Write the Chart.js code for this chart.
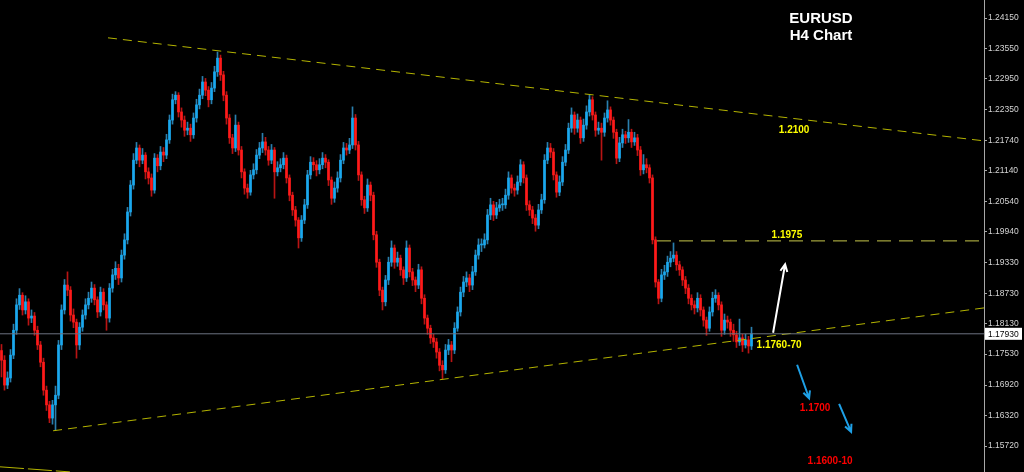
<!DOCTYPE html>
<html>
<head>
<meta charset="utf-8">
<title>EURUSD H4 Chart</title>
<script src="https://cdn.jsdelivr.net/npm/chart.js@4.4.0/dist/chart.umd.min.js"></script>
<style>
   body { margin: 0; background: #000; }
   .chart-box { width: 1024px; height: 472px; }
</style>
</head>
<body>
<div class="chart-box"><canvas id="eurusd-chart"></canvas></div>
<script>
// price data (H4 candles, open = previous close)
const firstOpen = 1.1760;
const closes = [
   1.1741, 1.1692, 1.1706, 1.1751, 1.1800, 1.1850, 1.1869, 1.1840, 1.1856, 1.1824,
   1.1828, 1.1800, 1.1771, 1.1737, 1.1682, 1.1653, 1.1627, 1.1653, 1.1672, 1.1771,
   1.1840, 1.1889, 1.1879, 1.1830, 1.1816, 1.1771, 1.1806, 1.1830, 1.1850, 1.1863,
   1.1883, 1.1860, 1.1836, 1.1875, 1.1850, 1.1824, 1.1883, 1.1909, 1.1922, 1.1903,
   1.1948, 1.1978, 1.2033, 1.2086, 1.2135, 1.2159, 1.2135, 1.2145, 1.2112, 1.2100,
   1.2076, 1.2139, 1.2124, 1.2151, 1.2145, 1.2175, 1.2214, 1.2254, 1.2263, 1.2230,
   1.2214, 1.2194, 1.2198, 1.2185, 1.2218, 1.2244, 1.2263, 1.2289, 1.2273, 1.2254,
   1.2277, 1.2309, 1.2336, 1.2303, 1.2263, 1.2218, 1.2179, 1.2159, 1.2204, 1.2155,
   1.2112, 1.2080, 1.2072, 1.2106, 1.2116, 1.2145, 1.2159, 1.2171, 1.2155, 1.2135,
   1.2155, 1.2112, 1.2120, 1.2126, 1.2139, 1.2100, 1.2066, 1.2037, 1.2017, 1.1982,
   1.2017, 1.2047, 1.2106, 1.2131, 1.2126, 1.2116, 1.2126, 1.2139, 1.2131, 1.2096,
   1.2060, 1.2080, 1.2100, 1.2135, 1.2159, 1.2155, 1.2165, 1.2218, 1.2165, 1.2106,
   1.2057, 1.2041, 1.2086, 1.2066, 1.1988, 1.1934, 1.1879, 1.1856, 1.1899, 1.1934,
   1.1962, 1.1934, 1.1942, 1.1919, 1.1903, 1.1962, 1.1915, 1.1899, 1.1889, 1.1919,
   1.1863, 1.1824, 1.1804, 1.1785, 1.1777, 1.1757, 1.1731, 1.1722, 1.1761, 1.1771,
   1.1761, 1.1804, 1.1836, 1.1875, 1.1895, 1.1903, 1.1889, 1.1915, 1.1948, 1.1968,
   1.1968, 1.1978, 1.2027, 1.2047, 1.2027, 1.2041, 1.2047, 1.2047, 1.2066, 1.2100,
   1.2080, 1.2076, 1.2092, 1.2126, 1.2100, 1.2047, 1.2037, 1.2021, 1.2007, 1.2037,
   1.2057, 1.2135, 1.2159, 1.2151, 1.2106, 1.2072, 1.2092, 1.2131, 1.2155, 1.2198,
   1.2224, 1.2198, 1.2214, 1.2179, 1.2204, 1.2230, 1.2254, 1.2224, 1.2194, 1.2198,
   1.2190, 1.2218, 1.2234, 1.2214, 1.2190, 1.2139, 1.2169, 1.2185, 1.2179, 1.2190,
   1.2171, 1.2179, 1.2155, 1.2116, 1.2126, 1.2120, 1.2100, 1.1978, 1.1895, 1.1863,
   1.1909, 1.1915, 1.1934, 1.1942, 1.1948, 1.1929, 1.1919, 1.1899, 1.1883, 1.1863,
   1.1850, 1.1844, 1.1863, 1.1840, 1.1820, 1.1804, 1.1836, 1.1863, 1.1869, 1.1850,
   1.1800, 1.1820, 1.1816, 1.1800, 1.1791, 1.1777, 1.1785, 1.1771, 1.1781, 1.1769,
   1.1793
];
const highs = [
   1.1772, 1.1750, 1.1718, 1.1762, 1.1812, 1.1862, 1.1882, 1.1874, 1.1868, 1.1862,
   1.1840, 1.1835, 1.1808, 1.1778, 1.1745, 1.1690, 1.1660, 1.1662, 1.1690, 1.1780,
   1.1850, 1.1900, 1.1915, 1.1886, 1.1842, 1.1822, 1.1815, 1.1840, 1.1862, 1.1875,
   1.1895, 1.1890, 1.1866, 1.1885, 1.1882, 1.1856, 1.1892, 1.1920, 1.1935, 1.1930,
   1.1958, 1.1990, 1.2042, 1.2095, 1.2148, 1.2170, 1.2165, 1.2158, 1.2150, 1.2120,
   1.2108, 1.2148, 1.2146, 1.2162, 1.2160, 1.2186, 1.2224, 1.2265, 1.2270, 1.2268,
   1.2238, 1.2222, 1.2210, 1.2206, 1.2228, 1.2255, 1.2275, 1.2300, 1.2296, 1.2280,
   1.2288, 1.2320, 1.2348, 1.2342, 1.2310, 1.2270, 1.2225, 1.2186, 1.2224, 1.2210,
   1.2162, 1.2118, 1.2088, 1.2115, 1.2128, 1.2156, 1.2170, 1.2188, 1.2180, 1.2162,
   1.2166, 1.2160, 1.2132, 1.2138, 1.2150, 1.2145, 1.2106, 1.2072, 1.2044, 1.2022,
   1.2026, 1.2058, 1.2115, 1.2142, 1.2140, 1.2134, 1.2138, 1.2150, 1.2146, 1.2136,
   1.2102, 1.2092, 1.2112, 1.2146, 1.2170, 1.2168, 1.2178, 1.2240, 1.2225, 1.2172,
   1.2112, 1.2064, 1.2098, 1.2092, 1.2072, 1.1995, 1.1940, 1.1885, 1.1908, 1.1944,
   1.1976, 1.1968, 1.1954, 1.1948, 1.1925, 1.1976, 1.1968, 1.1922, 1.1905, 1.1930,
   1.1925, 1.1870, 1.1830, 1.1810, 1.1792, 1.1784, 1.1764, 1.1740, 1.1772, 1.1782,
   1.1778, 1.1815, 1.1846, 1.1885, 1.1906, 1.1915, 1.1910, 1.1926, 1.1958, 1.1980,
   1.1980, 1.1990, 1.2038, 1.2060, 1.2054, 1.2052, 1.2058, 1.2060, 1.2078, 1.2112,
   1.2106, 1.2088, 1.2104, 1.2136, 1.2132, 1.2106, 1.2055, 1.2044, 1.2028, 1.2048,
   1.2068, 1.2146, 1.2170, 1.2168, 1.2158, 1.2112, 1.2104, 1.2142, 1.2166, 1.2208,
   1.2238, 1.2230, 1.2226, 1.2220, 1.2216, 1.2242, 1.2263, 1.2260, 1.2230, 1.2210,
   1.2208, 1.2228, 1.2252, 1.2240, 1.2220, 1.2196, 1.2180, 1.2196, 1.2192, 1.2215,
   1.2196, 1.2190, 1.2186, 1.2162, 1.2146, 1.2138, 1.2126, 1.2106, 1.1984, 1.1900,
   1.1920, 1.1928, 1.1946, 1.1955, 1.1972, 1.1955, 1.1936, 1.1925, 1.1906, 1.1890,
   1.1870, 1.1858, 1.1874, 1.1870, 1.1846, 1.1826, 1.1846, 1.1875, 1.1880, 1.1874,
   1.1856, 1.1832, 1.1828, 1.1822, 1.1812, 1.1798, 1.1822, 1.1792, 1.1792, 1.1788,
   1.1806
];
const lows = [
   1.1708, 1.1682, 1.1685, 1.1698, 1.1744, 1.1792, 1.1841, 1.1830, 1.1832, 1.1810,
   1.1815, 1.1790, 1.1762, 1.1728, 1.1672, 1.1642, 1.1618, 1.1615, 1.1603, 1.1665,
   1.1762, 1.1832, 1.1868, 1.1818, 1.1805, 1.1745, 1.1762, 1.1798, 1.1822, 1.1842,
   1.1855, 1.1850, 1.1825, 1.1828, 1.1840, 1.1800, 1.1816, 1.1875, 1.1900, 1.1890,
   1.1895, 1.1940, 1.1970, 1.2025, 1.2078, 1.2128, 1.2122, 1.2128, 1.2098, 1.2088,
   1.2064, 1.2070, 1.2112, 1.2116, 1.2132, 1.2138, 1.2168, 1.2206, 1.2246, 1.2220,
   1.2200, 1.2182, 1.2185, 1.2172, 1.2178, 1.2210, 1.2236, 1.2256, 1.2262, 1.2240,
   1.2246, 1.2270, 1.2300, 1.2292, 1.2252, 1.2206, 1.2168, 1.2148, 1.2152, 1.2145,
   1.2100, 1.2068, 1.2060, 1.2066, 1.2098, 1.2108, 1.2138, 1.2150, 1.2145, 1.2125,
   1.2128, 1.2060, 1.2104, 1.2112, 1.2118, 1.2090, 1.2055, 1.2026, 1.2005, 1.1962,
   1.1975, 1.2010, 1.2040, 1.2098, 1.2114, 1.2104, 1.2108, 1.2118, 1.2120, 1.2085,
   1.2048, 1.2052, 1.2072, 1.2092, 1.2128, 1.2145, 1.2148, 1.2158, 1.2155, 1.2095,
   1.2046, 1.2030, 1.2034, 1.2055, 1.1978, 1.1924, 1.1868, 1.1840, 1.1848, 1.1890,
   1.1926, 1.1922, 1.1926, 1.1908, 1.1890, 1.1896, 1.1905, 1.1888, 1.1876, 1.1882,
   1.1852, 1.1812, 1.1792, 1.1774, 1.1766, 1.1745, 1.1720, 1.1704, 1.1715, 1.1752,
   1.1738, 1.1754, 1.1798, 1.1828, 1.1866, 1.1886, 1.1876, 1.1880, 1.1908, 1.1940,
   1.1955, 1.1962, 1.1970, 1.2018, 1.2016, 1.2020, 1.2034, 1.2036, 1.2040, 1.2058,
   1.2070, 1.2064, 1.2068, 1.2085, 1.2090, 1.2036, 1.2026, 1.2010, 1.1995, 1.2000,
   1.2030, 1.2050, 1.2128, 1.2140, 1.2096, 1.2062, 1.2065, 1.2085, 1.2124, 1.2148,
   1.2190, 1.2186, 1.2190, 1.2168, 1.2172, 1.2196, 1.2222, 1.2214, 1.2182, 1.2186,
   1.2135, 1.2182, 1.2210, 1.2204, 1.2178, 1.2128, 1.2132, 1.2160, 1.2168, 1.2170,
   1.2160, 1.2164, 1.2144, 1.2105, 1.2108, 1.2110, 1.2090, 1.1970, 1.1885, 1.1852,
   1.1856, 1.1900, 1.1906, 1.1925, 1.1935, 1.1918, 1.1908, 1.1888, 1.1872, 1.1852,
   1.1840, 1.1832, 1.1836, 1.1828, 1.1808, 1.1790, 1.1798, 1.1828, 1.1855, 1.1840,
   1.1788, 1.1792, 1.1804, 1.1788, 1.1778, 1.1766, 1.1770, 1.1758, 1.1765, 1.1755,
   1.1762
];

// price axis labels
const tickValues = [
   1.24150, 1.23550, 1.22950, 1.22350, 1.21740, 1.21140, 1.20540, 1.19940,
   1.19330, 1.18730, 1.18130, 1.17530, 1.16920, 1.16320, 1.15720
];
const yMin = 1.15208;
const yMax = 1.24505;
const barSlots = 328; // whole width incl. empty space on the right
const bid = 1.17930;

// drawn lines: [barIndex, price] pairs
const upperTrend = [[36, 1.2376], [328, 1.2173]];
const lowerTrend = [[17.7, 1.1602], [328, 1.1844]];
const oldTrend = [[0, 1.1531], [23.3, 1.1521]];
const level1975 = [[219, 1.1976], [328, 1.1976]];

// text notes and arrows
const notes = [
   { text: '1.2100', x: 264.7, y: 1.2194, color: '#ffff00' },
   { text: '1.1975', x: 262.3, y: 1.1988, color: '#ffff00' },
   { text: '1.1760-70', x: 259.7, y: 1.1771, color: '#ffff00' },
   { text: '1.1700', x: 271.7, y: 1.1647, color: '#ff0000' },
   { text: '1.1600-10', x: 276.7, y: 1.1542, color: '#ff0000' },
];
const arrows = [
   { from: [257.7, 1.1795], to: [261.7, 1.1930], color: '#ffffff', width: 2 },
   { from: [265.7, 1.1732], to: [269.7, 1.1666], color: '#1ea0e6', width: 2 },
   { from: [279.7, 1.1655], to: [283.7, 1.1600], color: '#1ea0e6', width: 2 },
];

const opens = closes.map((c, i) => i === 0 ? firstOpen : closes[i - 1]);
const isUp = closes.map((c, i) => c >= opens[i]);

function toPoints(pairs) {
   return pairs.map(p => ({ x: p[0], y: p[1] }));
}

function lineSet(pairs, color, dash, width) {
   return {
      type: 'line',
      data: toPoints(pairs),
      borderColor: color,
      borderWidth: width || 1,
      borderDash: dash || [],
      pointRadius: 0,
      fill: false,
   };
}

// notes, arrows, title and the bid box
const notesPlugin = {
   id: 'notes',
   afterDatasetsDraw(chart) {
      const ctx = chart.ctx;
      const xs = chart.scales.x;
      const ys = chart.scales.y;
      const area = chart.chartArea;
      ctx.save();

      ctx.font = 'bold 10px "Liberation Sans", Arial, sans-serif';
      ctx.textAlign = 'center';
      ctx.textBaseline = 'middle';
      notes.forEach(n => {
         ctx.fillStyle = n.color;
         ctx.fillText(n.text, xs.getPixelForValue(n.x), ys.getPixelForValue(n.y));
      });

      arrows.forEach(a => {
         const x1 = xs.getPixelForValue(a.from[0]);
         const y1 = ys.getPixelForValue(a.from[1]);
         const x2 = xs.getPixelForValue(a.to[0]);
         const y2 = ys.getPixelForValue(a.to[1]);
         const ang = Math.atan2(y2 - y1, x2 - x1);
         ctx.strokeStyle = a.color;
         ctx.lineWidth = a.width;
         ctx.beginPath();
         ctx.moveTo(x1, y1);
         ctx.lineTo(x2, y2);
         ctx.moveTo(x2 - 8 * Math.cos(ang - 0.45), y2 - 8 * Math.sin(ang - 0.45));
         ctx.lineTo(x2, y2);
         ctx.lineTo(x2 - 8 * Math.cos(ang + 0.45), y2 - 8 * Math.sin(ang + 0.45));
         ctx.stroke();
      });

      // title
      ctx.fillStyle = '#ffffff';
      ctx.font = 'bold 15px "Liberation Sans", Arial, sans-serif';
      ctx.fillText('EURUSD', area.left + 821, area.top + 19);
      ctx.fillText('H4 Chart', area.left + 821, area.top + 36);

      // bid box on the price axis
      const by = ys.getPixelForValue(bid);
      ctx.fillStyle = '#ffffff';
      ctx.fillRect(area.right + 1, by - 6, 37, 12);
      ctx.fillStyle = '#000000';
      ctx.font = '8.5px "Liberation Sans", Arial, sans-serif';
      ctx.textAlign = 'left';
      ctx.fillText(bid.toFixed(5), area.right + 4, by + 0.5);
      ctx.restore();
   }
};

const ctx = document.getElementById('eurusd-chart').getContext('2d');

const eurusdChart = new Chart(ctx, {
   type: 'bar',
   data: {
      datasets: [
         lineSet([[0, bid], [barSlots, bid]], '#6c7280'),
         lineSet(upperTrend, '#b4b400', [9, 6]),
         lineSet(lowerTrend, '#b4b400', [9, 6]),
         lineSet(oldTrend, '#b4b400', [24, 4]),
         lineSet(level1975, '#c8c84a', [14, 8]),
         {
            // candle bodies
            data: closes.map((c, i) => ({ x: i + 0.5, y: [opens[i], c] })),
            backgroundColor: isUp.map(u => u ? '#1aa8ee' : '#ff1a1a'),
            barThickness: 2,
            minBarLength: 1,
            grouped: false,
         },
         {
            // wicks
            data: closes.map((c, i) => ({ x: i + 0.5, y: [lows[i], highs[i]] })),
            backgroundColor: isUp.map(u => u ? '#2a7fae' : '#b81414'),
            barThickness: 1,
            grouped: false,
         },
      ],
   },
   options: {
      responsive: true,
      maintainAspectRatio: false,
      animation: false,
      layout: { padding: 0 },
      scales: {
         x: {
            type: 'linear',
            min: 0,
            max: barSlots,
            offset: false,
            display: false,
         },
         y: {
            position: 'right',
            min: yMin,
            max: yMax,
            afterBuildTicks: function (scale) {
               scale.ticks = tickValues.map(v => ({ value: v }));
            },
            afterFit: function (scale) {
               scale.width = 40;
               scale.paddingTop = 0;
               scale.paddingBottom = 0;
            },
            ticks: {
               autoSkip: false,
               color: '#d4d4d4',
               padding: 1,
               font: { family: '"Liberation Sans", Arial, sans-serif', size: 8.5 },
               callback: function (value) {
                  return Number(value).toFixed(5);
               },
            },
            grid: {
               drawOnChartArea: false,
               color: '#a8a8a8',
               tickLength: 3,
            },
            border: { color: '#a8a8a8' },
         },
      },
      plugins: {
         legend: false,
         tooltip: { enabled: false },
      },
   },
   plugins: [notesPlugin],
});
</script>
</body>
</html>
